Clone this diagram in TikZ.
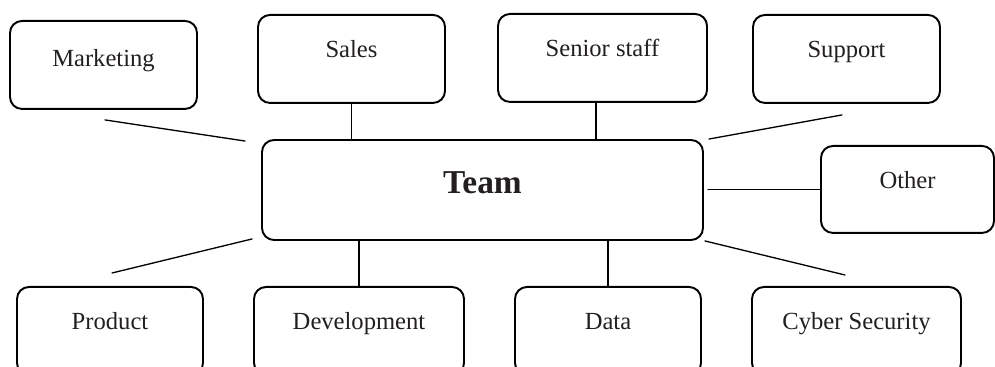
\documentclass[tikz,border=0pt]{standalone}
\usepackage{fontspec}
\setmainfont{Liberation Serif}
\usepackage{xcolor}
\usepackage{tikz}
\usetikzlibrary{positioning}
\definecolor{tmInk}{HTML}{231F20}
\definecolor{tmLine}{HTML}{000000}
\tikzset{
  tm diagram/.style={line cap=round, line join=round},
  tm box/.style={draw=tmLine, fill=white, line width=1.1pt,
    rounded corners=0.24cm, inner xsep=0pt, inner ysep=0pt,
    text height=0.85cm, text depth=0.91cm, anchor=north,
    font=\fontsize{14}{16}\selectfont, text=tmInk},
  tm key box/.style={tm box, anchor=center, minimum width=8.82cm,
    minimum height=2cm, text height={}, text depth=0.28cm,
    font=\fontsize{19}{22}\selectfont\bfseries},
  tm link/.style={draw=tmLine, line width=0.75pt}
}
\begin{document}
\begin{tikzpicture}[tm diagram]
\clip[use as bounding box] (0,0) rectangle (19.9,7.34);
\node[tm key box] (team) at (9.65,3.54) {Team};
\node[tm box, minimum width=3.74cm, text height=0.91cm, text depth=0.85cm] (marketing) at (2.07,6.94) {Marketing};
\node[tm box, minimum width=3.74cm] (sales) at (7.03,7.06) {Sales};
\node[tm box, minimum width=4.18cm] (senior) at (12.05,7.08) {Senior staff};
\node[tm box, minimum width=3.74cm] (support) at (16.93,7.06) {Support};
\node[tm box, minimum width=3.46cm, text depth=0.89cm] (other) at (18.15,4.44) {Other};
\node[tm box, minimum width=3.72cm] (product) at (2.2,1.62) {Product};
\node[tm box, minimum width=4.2cm] (development) at (7.18,1.62) {Development};
\node[tm box, minimum width=3.72cm] (data) at (12.16,1.62) {Data};
\node[tm box, minimum width=4.18cm] (cyber) at (17.13,1.62) {Cyber Security};
\draw[tm link] ([shift={(0.03,-0.2)}]marketing.south) -- ([shift={(-0.32,-0.04)}]team.north west);
\draw[tm link] (sales.south) -- (sales.south |- team.north);
\draw[tm link] ([xshift=-0.13cm]senior.south) -- ([xshift=-0.13cm]senior.south |- team.north);
\draw[tm link] ([shift={(-0.09,-0.22)}]support.south) -- ([xshift=0.1cm]team.north east);
\draw[tm link] (other.west) -- ([xshift=0.08cm]team.east |- other.west);
\draw[tm link] ([shift={(0.04,0.26)}]product.north) -- ([shift={(-0.18,0.04)}]team.south west);
\draw[tm link] (development.north) -- (development.north |- team.south);
\draw[tm link] (data.north) -- (data.north |- team.south);
\draw[tm link] ([xshift=0.02cm]team.south east) -- ([shift={(-0.23,0.22)}]cyber.north);
\end{tikzpicture}
\end{document}
